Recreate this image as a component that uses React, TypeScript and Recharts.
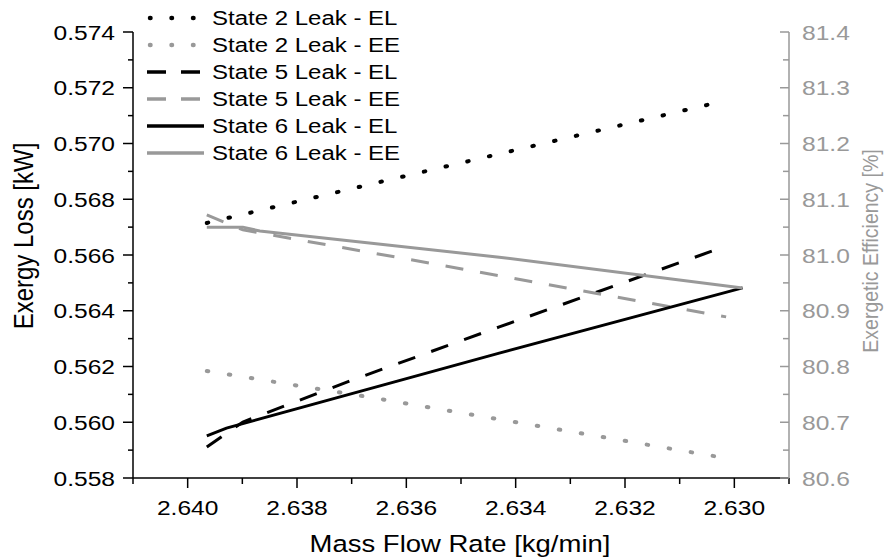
import React from "react";
import { LineChart, Line, XAxis, YAxis, Legend, Label } from "recharts";

// mass flow rate [kg/min] vs exergy loss (EL, left) and exergetic efficiency (EE, right)
const state2EL = [
  { x: 2.63965, y: 0.56715 },
  { x: 2.63609, y: 0.5688 },
  { x: 2.63018, y: 0.57153 },
];
const state2EE = [
  { x: 2.63965, y: 80.792 },
  { x: 2.63649, y: 80.742 },
  { x: 2.63411, y: 80.702 },
  { x: 2.63018, y: 80.636 },
];
const state5EL = [
  { x: 2.63965, y: 0.55911 },
  { x: 2.63899, y: 0.56001 },
  { x: 2.63698, y: 0.56152 },
  { x: 2.6343, y: 0.56342 },
  { x: 2.63015, y: 0.56632 },
];
const state5EE = [
  { x: 2.63965, y: 81.072 },
  { x: 2.63899, y: 81.045 },
  { x: 2.63612, y: 80.995 },
  { x: 2.63015, y: 80.889 },
];
const state6EL = [
  { x: 2.63965, y: 0.55951 },
  { x: 2.63929, y: 0.55979 },
  { x: 2.6343, y: 0.56248 },
  { x: 2.62985, y: 0.56482 },
];
const state6EE = [
  { x: 2.63965, y: 81.05 },
  { x: 2.63899, y: 81.05 },
  { x: 2.63868, y: 81.043 },
  { x: 2.6343, y: 80.996 },
  { x: 2.62985, y: 80.941 },
];

const xMajor = [2.64, 2.638, 2.636, 2.634, 2.632, 2.63];
const xAll = [2.641, 2.64, 2.639, 2.638, 2.637, 2.636, 2.635, 2.634, 2.633, 2.632, 2.631, 2.63, 2.629];
const leftMajor = [0.558, 0.56, 0.562, 0.564, 0.566, 0.568, 0.57, 0.572, 0.574];
const leftAll = [
  0.558, 0.559, 0.56, 0.561, 0.562, 0.563, 0.564, 0.565, 0.566, 0.567, 0.568, 0.569, 0.57, 0.571, 0.572,
  0.573, 0.574,
];
const rightMajor = [80.6, 80.7, 80.8, 80.9, 81.0, 81.1, 81.2, 81.3, 81.4];
const rightAll = [
  80.6, 80.65, 80.7, 80.75, 80.8, 80.85, 80.9, 80.95, 81.0, 81.05, 81.1, 81.15, 81.2, 81.25, 81.3, 81.35,
  81.4,
];

const FONT = "'Liberation Sans', Arial, sans-serif";
const BLACK = "#000";
const GRAY = "#999";
const STRETCH = 1.17;
const TS = 10; // tickSize passed to axes
const TM = 2; // tickMargin passed to axes

const DOT = "1.5 20.8";
const DASH = "18 17";

const series = [
  { name: "State 2 Leak - EL", data: state2EL, color: BLACK, dash: DOT, axis: "left", kind: "dot" },
  { name: "State 2 Leak - EE", data: state2EE, color: GRAY, dash: DOT, axis: "right", kind: "dot" },
  { name: "State 5 Leak - EL", data: state5EL, color: BLACK, dash: DASH, axis: "left", kind: "dash" },
  { name: "State 5 Leak - EE", data: state5EE, color: GRAY, dash: DASH, axis: "right", kind: "dash" },
  { name: "State 6 Leak - EL", data: state6EL, color: BLACK, dash: undefined, axis: "left", kind: "solid" },
  { name: "State 6 Leak - EE", data: state6EE, color: GRAY, dash: undefined, axis: "right", kind: "solid" },
];

const isMajor = (list: number[], v: number) => list.some((t) => Math.abs(t - v) < 1e-7);

const XTick = (props: any) => {
  const { x, y, payload } = props;
  const v = payload.value;
  const major = isMajor(xMajor, v);
  const axisY = y - TS - TM;
  return (
    <g>
      <line x1={x} x2={x} y1={axisY} y2={axisY + (major ? 10 : 6)} stroke={BLACK} strokeWidth={1.5} />
      {major && (
        <text
          transform={`translate(${x},${axisY + 37}) scale(${STRETCH},1)`}
          textAnchor="middle"
          fontSize={21}
          fontFamily={FONT}
          fill={BLACK}
        >
          {v.toFixed(3)}
        </text>
      )}
    </g>
  );
};

const LeftTick = (props: any) => {
  const { x, y, payload } = props;
  const v = payload.value;
  const major = isMajor(leftMajor, v);
  const axisX = x + TS + TM;
  return (
    <g>
      <line x1={axisX - (major ? 10 : 5)} x2={axisX} y1={y} y2={y} stroke={BLACK} strokeWidth={1.5} />
      {major && (
        <text
          transform={`translate(${axisX - 18},${y + 7.5}) scale(${STRETCH},1)`}
          textAnchor="end"
          fontSize={21}
          fontFamily={FONT}
          fill={BLACK}
        >
          {v.toFixed(3)}
        </text>
      )}
    </g>
  );
};

const RightTick = (props: any) => {
  const { x, y, payload } = props;
  const v = payload.value;
  const major = isMajor(rightMajor, v);
  const axisX = x - TS - TM;
  return (
    <g>
      <line x1={axisX - (major ? 9 : 6)} x2={axisX} y1={y} y2={y} stroke={GRAY} strokeWidth={1.5} />
      {major && (
        <text
          transform={`translate(${axisX + 13},${y + 7.5}) scale(${STRETCH},1)`}
          textAnchor="start"
          fontSize={21}
          fontFamily={FONT}
          fill={GRAY}
        >
          {v.toFixed(1)}
        </text>
      )}
    </g>
  );
};

const renderLegend = () => (
  <div style={{ fontFamily: FONT, color: BLACK }}>
    {series.map((s) => (
      <div key={s.name} style={{ display: "flex", alignItems: "center", height: 27 }}>
        <svg width={58} height={10} style={{ display: "block" }}>
          {s.kind === "dot" && (
            <line x1={3} x2={57} y1={5} y2={5} stroke={s.color} strokeWidth={4.5} strokeLinecap="round" strokeDasharray="0.5 21" />
          )}
          {s.kind === "dash" && (
            <line x1={0} x2={57} y1={5} y2={5} stroke={s.color} strokeWidth={3.5} strokeDasharray="19 15" />
          )}
          {s.kind === "solid" && <line x1={0} x2={57} y1={5} y2={5} stroke={s.color} strokeWidth={3.5} />}
        </svg>
        <span
          style={{
            marginLeft: 7,
            fontSize: 20,
            display: "inline-block",
            transform: `scaleX(${STRETCH + 0.03})`,
            transformOrigin: "left center",
            whiteSpace: "nowrap",
            lineHeight: "27px",
          }}
        >
          {s.name}
        </span>
      </div>
    ))}
  </div>
);

export default function App() {
  return (
    <div style={{ position: "absolute", left: 0, top: 0, background: "#fff" }}>
      <LineChart width={891} height={560} margin={{ top: 32, right: 0, bottom: 0, left: 0 }}>
        <XAxis
          dataKey="x"
          type="number"
          domain={[2.629, 2.641]}
          reversed
          allowDataOverflow
          ticks={xAll}
          interval={0}
          height={82}
          tickSize={TS}
          tickMargin={TM}
          tickLine={false}
          tick={<XTick />}
          axisLine={{ stroke: BLACK, strokeWidth: 1.5 }}
        >
          <Label
            content={() => (
              <text
                transform={`translate(460,552) scale(${STRETCH},1)`}
                textAnchor="middle"
                fontSize={23.5}
                fontFamily={FONT}
                fill={BLACK}
              >
                Mass Flow Rate [kg/min]
              </text>
            )}
          />
        </XAxis>
        <YAxis
          yAxisId="left"
          type="number"
          domain={[0.558, 0.574]}
          allowDataOverflow
          ticks={leftAll}
          interval={0}
          width={133}
          tickSize={TS}
          tickMargin={TM}
          tickLine={false}
          tick={<LeftTick />}
          axisLine={{ stroke: BLACK, strokeWidth: 1.5 }}
        >
          <Label
            content={() => (
              <text
                transform={`translate(23,236) scale(${STRETCH},1) rotate(-90)`}
                textAnchor="middle"
                dy="0.35em"
                fontSize={24}
                fontFamily={FONT}
                fill={BLACK}
              >
                Exergy Loss [kW]
              </text>
            )}
          />
        </YAxis>
        <YAxis
          yAxisId="right"
          orientation="right"
          type="number"
          domain={[80.6, 81.4]}
          allowDataOverflow
          ticks={rightAll}
          interval={0}
          width={102}
          tickSize={TS}
          tickMargin={TM}
          tickLine={false}
          tick={<RightTick />}
          axisLine={{ stroke: GRAY, strokeWidth: 1.5 }}
        >
          <Label
            content={() => (
              <text
                transform={`translate(870,251) scale(${STRETCH},1) rotate(-90)`}
                textAnchor="middle"
                dy="0.35em"
                fontSize={19.5}
                fontFamily={FONT}
                fill={GRAY}
              >
                Exergetic Efficiency [%]
              </text>
            )}
          />
        </YAxis>
        <Legend
          content={renderLegend}
          layout="horizontal"
          align="center"
          verticalAlign="middle"
          wrapperStyle={{ left: 147, top: 4.5, width: "auto" }}
        />
        {series.map((s) => (
          <Line
            key={s.name}
            name={s.name}
            data={s.data}
            dataKey="y"
            yAxisId={s.axis}
            type="linear"
            stroke={s.color}
            strokeWidth={s.kind === "dot" ? 4 : 3}
            strokeDasharray={s.dash}
            strokeLinecap={s.kind === "dot" ? "round" : "butt"}
            dot={false}
            activeDot={false}
            isAnimationActive={false}
          />
        ))}
      </LineChart>
    </div>
  );
}
